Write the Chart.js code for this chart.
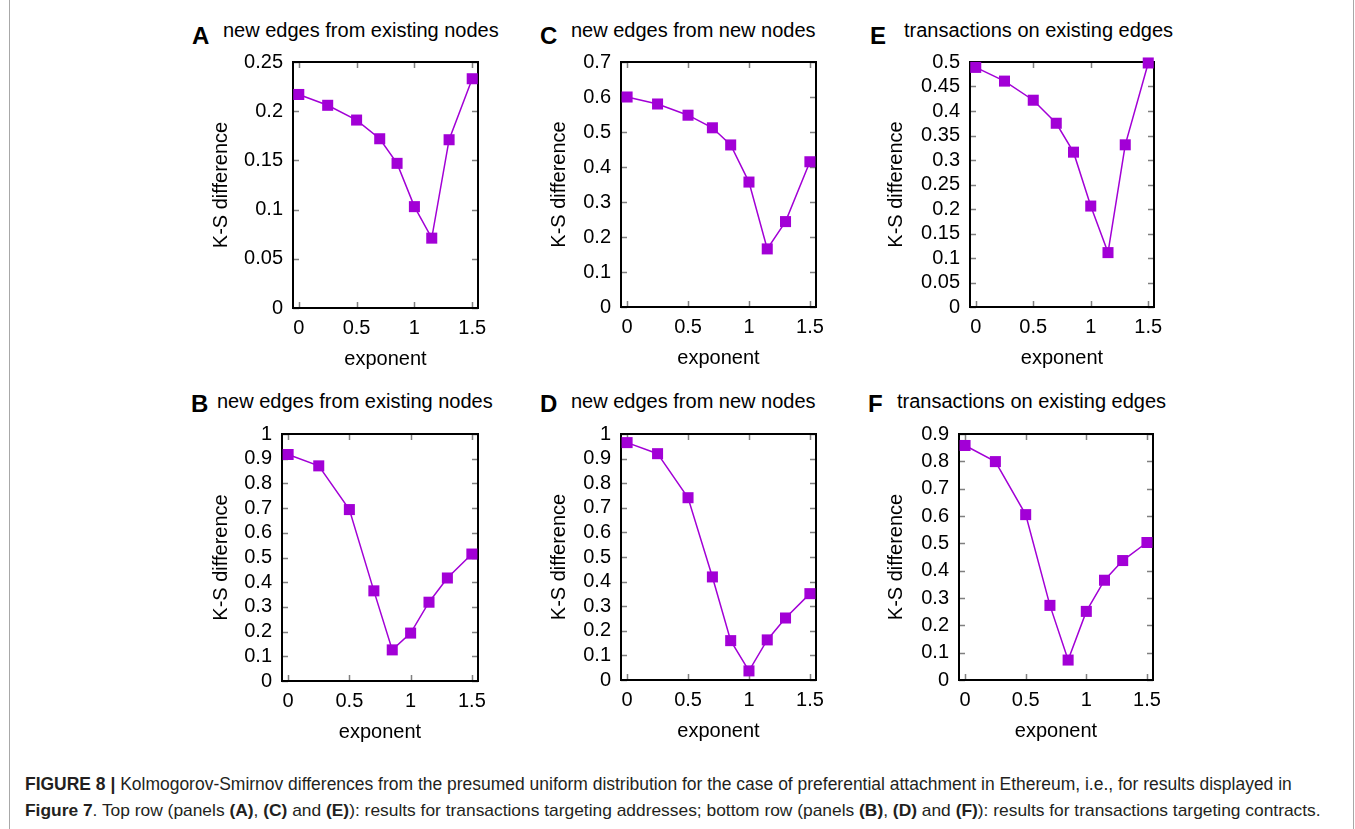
<!DOCTYPE html>
<html><head><meta charset="utf-8">
<script src="https://cdn.jsdelivr.net/npm/chart.js@4.4.0/dist/chart.umd.min.js"></script>
<style>
html,body{margin:0;padding:0;background:#fff;}
body{width:1355px;height:829px;position:relative;overflow:hidden;font-family:"Liberation Sans",Arial,Helvetica,sans-serif;}
canvas{position:absolute;}
.lt{position:absolute;font-weight:bold;font-size:24px;line-height:1;color:#000;}
.tt{position:absolute;font-size:20px;line-height:1;color:#000;white-space:nowrap;}
.cap{position:absolute;left:25px;font-size:14.5px;line-height:1;color:#231f20;white-space:nowrap;}
.frame{position:absolute;top:0;height:829px;width:1px;background:#a8a8a8;}
</style></head>
<body>
<div class="frame" style="left:9px"></div>
<div class="frame" style="left:1353px"></div>
<div id="panels"></div>
<div class="cap" id="cap1" style="top:778px"><b>FIGURE 8 |</b> Kolmogorov-Smirnov differences from the presumed uniform distribution for the case of preferential attachment in Ethereum, i.e., for results displayed in</div>
<div class="cap" id="cap2" style="top:804px"><b>Figure 7</b>. Top row (panels <b>(A)</b>, <b>(C)</b> and <b>(E)</b>): results for transactions targeting addresses; bottom row (panels <b>(B)</b>, <b>(D)</b> and <b>(F)</b>): results for transactions targeting contracts.</div>
<script>
// ---- data ----
const exponents = [0, 0.25, 0.5, 0.7, 0.85, 1.0, 1.15, 1.3, 1.5];
const ksA = [0.217, 0.206, 0.191, 0.172, 0.147, 0.103, 0.071, 0.171, 0.233];
const ksC = [0.600, 0.580, 0.548, 0.512, 0.463, 0.357, 0.166, 0.244, 0.415];
const ksE = [0.489, 0.461, 0.422, 0.375, 0.316, 0.206, 0.111, 0.331, 0.498];
const ksB = [0.917, 0.871, 0.694, 0.365, 0.126, 0.194, 0.319, 0.417, 0.514];
const ksD = [0.965, 0.920, 0.741, 0.419, 0.160, 0.037, 0.163, 0.252, 0.351];
const ksF = [0.858, 0.799, 0.605, 0.273, 0.073, 0.251, 0.365, 0.437, 0.503];
const xTicks = [0, 0.5, 1, 1.5];
const yTicksA = [0, 0.05, 0.1, 0.15, 0.2, 0.25];
const yTicksC = [0, 0.1, 0.2, 0.3, 0.4, 0.5, 0.6, 0.7];
const yTicksE = [0, 0.05, 0.1, 0.15, 0.2, 0.25, 0.3, 0.35, 0.4, 0.45, 0.5];
const yTicksB = [0, 0.1, 0.2, 0.3, 0.4, 0.5, 0.6, 0.7, 0.8, 0.9, 1];
const yTicksD = [0, 0.1, 0.2, 0.3, 0.4, 0.5, 0.6, 0.7, 0.8, 0.9, 1];
const yTicksF = [0, 0.1, 0.2, 0.3, 0.4, 0.5, 0.6, 0.7, 0.8, 0.9];
const panelLetters = ['A', 'C', 'E', 'B', 'D', 'F'];
const panelTitles = ['new edges from existing nodes', 'new edges from new nodes', 'transactions on existing edges',
                     'new edges from existing nodes', 'new edges from new nodes', 'transactions on existing edges'];
const xLabel = 'exponent';
const yLabel = 'K-S difference';

// ---- layout / style ----
const COLOR = '#a200d6';
const FONT = '"Liberation Sans", Arial, Helvetica, sans-serif';
const YW = 90, XH = 70, PT = 16, PR = 14;
const panels = [
  {vals: ksA, yt: yTicksA, L: 293, R: 478, T: 62, B: 308, tp: 6,  lx: 192, tx: 223, lty: 24, tty: 20},
  {vals: ksC, yt: yTicksC, L: 621, R: 816, T: 62, B: 307, tp: 16, lx: 540, tx: 571, lty: 24, tty: 20},
  {vals: ksE, yt: yTicksE, L: 970, R: 1154, T: 62, B: 307, tp: 4, lx: 870, tx: 904, lty: 24, tty: 20},
  {vals: ksB, yt: yTicksB, L: 282, R: 478, T: 434, B: 681, tp: 17, lx: 191, tx: 217, lty: 391.5, tty: 391},
  {vals: ksD, yt: yTicksD, L: 621, R: 816, T: 434, B: 680, tp: 16, lx: 540, tx: 571, lty: 391.5, tty: 391},
  {vals: ksF, yt: yTicksF, L: 959, R: 1153, T: 434, B: 680, tp: 15, lx: 868, tx: 897, lty: 391.5, tty: 391}
];

const fmt = v => String(Math.round(v * 1000) / 1000);

const framePlugin = {
  id: 'gnuframe',
  beforeDatasetsDraw(chart) {
    const {ctx, chartArea: {left, right, top, bottom}, scales: {x, y}} = chart;
    const tl = 6;
    ctx.save();
    ctx.strokeStyle = '#808080';
    ctx.lineWidth = 1.5;
    ctx.beginPath();
    x.ticks.forEach(t => {
      const px = Math.round(x.getPixelForValue(t.value)) + 0.5;
      ctx.moveTo(px, bottom); ctx.lineTo(px, bottom - tl);
      ctx.moveTo(px, top); ctx.lineTo(px, top + tl);
    });
    y.ticks.forEach(t => {
      const py = Math.round(y.getPixelForValue(t.value)) + 0.5;
      ctx.moveTo(left, py); ctx.lineTo(left + tl, py);
      ctx.moveTo(right, py); ctx.lineTo(right - tl, py);
    });
    ctx.stroke();
    ctx.strokeStyle = '#000';
    ctx.lineWidth = 2;
    ctx.strokeRect(left, top, right - left, bottom - top);
    ctx.restore();
  }
};

const host = document.getElementById('panels');
panels.forEach((p, i) => {
  const lt = document.createElement('div');
  lt.className = 'lt'; lt.textContent = panelLetters[i];
  lt.style.left = p.lx + 'px'; lt.style.top = p.lty + 'px';
  host.appendChild(lt);
  const tt = document.createElement('div');
  tt.className = 'tt'; tt.textContent = panelTitles[i];
  tt.style.left = p.tx + 'px'; tt.style.top = p.tty + 'px';
  host.appendChild(tt);

  const cv = document.createElement('canvas');
  const w = (p.R - p.L) + YW + PR, h = (p.B - p.T) + PT + XH;
  cv.width = w; cv.height = h;
  cv.style.left = (p.L - YW) + 'px'; cv.style.top = (p.T - PT) + 'px';
  cv.style.width = w + 'px'; cv.style.height = h + 'px';
  host.appendChild(cv);

  const ymax = p.yt[p.yt.length - 1];
  new Chart(cv.getContext('2d'), {
    type: 'line',
    data: {
      datasets: [{
        data: exponents.map((x, k) => ({x: x, y: p.vals[k]})),
        borderColor: COLOR, backgroundColor: COLOR,
        borderWidth: 1.5, pointStyle: 'rect', pointRadius: 7.8, pointHoverRadius: 7.8,
        pointBorderWidth: 0, pointBackgroundColor: COLOR, clip: false, tension: 0, fill: false
      }]
    },
    options: {
      responsive: false, animation: false, events: [], devicePixelRatio: 1,
      layout: {padding: {top: PT, right: PR, left: 0, bottom: 0}},
      plugins: {legend: {display: false}, tooltip: {enabled: false}},
      scales: {
        x: {
          type: 'linear', min: -0.05, max: 1.55,
          afterBuildTicks: s => { s.ticks = xTicks.map(v => ({value: v})); },
          afterFit: s => { s.height = XH; s.paddingLeft = 0; s.paddingRight = 0; },
          grid: {display: false, drawTicks: false}, border: {display: false},
          ticks: {padding: 8, color: '#000', font: {family: FONT, size: 20}, callback: fmt, maxRotation: 0, autoSkip: false},
          title: {display: true, text: xLabel, color: '#000', font: {family: FONT, size: 20}, padding: {top: 0, bottom: 7}}
        },
        y: {
          type: 'linear', min: 0, max: ymax,
          afterBuildTicks: s => { s.ticks = p.yt.map(v => ({value: v})); },
          afterFit: s => { s.width = YW; s.paddingTop = 0; s.paddingBottom = 0; },
          grid: {display: false, drawTicks: false}, border: {display: false},
          ticks: {padding: 10, color: '#000', font: {family: FONT, size: 20}, callback: fmt, autoSkip: false},
          title: {display: true, text: yLabel, color: '#000', font: {family: FONT, size: 20}, padding: {top: p.tp, bottom: 0}}
        }
      }
    },
    plugins: [framePlugin]
  });
});

// fit caption widths to reference (line 1 spans x=25..1293, line 2 x=25..1322)
(function(){
  const c1 = document.getElementById('cap1'), c2 = document.getElementById('cap2');
  const fs1 = 14.5 * 1268 / c1.getBoundingClientRect().width;
  const fs2 = 14.5 * 1297 / c2.getBoundingClientRect().width;
  c1.style.fontSize = fs1 + 'px'; c2.style.fontSize = fs2 + 'px';
  c1.style.top = (791 - 0.8465 * fs1) + 'px'; c2.style.top = (817 - 0.8465 * fs2) + 'px';
})();
</script>
</body></html>
